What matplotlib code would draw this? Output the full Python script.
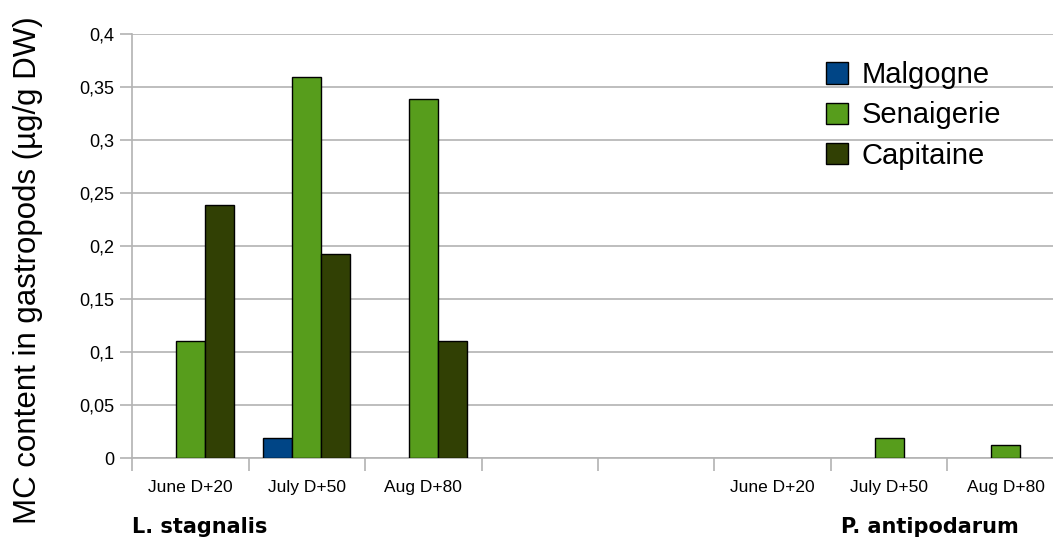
import numpy as np
import matplotlib.pyplot as plt
from matplotlib.patches import Patch

plt.rcParams['font.family'] = ['Liberation Sans', 'DejaVu Sans']

# 8 category slots: L. stagnalis (3), two empty spacers, P. antipodarum (3)
labels = ['June D+20', 'July D+50', 'Aug D+80', '', '',
          'June D+20', 'July D+50', 'Aug D+80']
malgogne = [0, 0.019, 0, 0, 0, 0, 0, 0]
senaigerie = [0.11, 0.359, 0.339, 0, 0, 0, 0.019, 0.012]
capitaine = [0.239, 0.192, 0.11, 0, 0, 0, 0, 0]

series = ['Malgogne', 'Senaigerie', 'Capitaine']
colors = ['#004586', '#579d1c', '#314004']

fig = plt.figure(figsize=(10.53, 5.41), dpi=100)
ax = fig.add_axes([0.1254, 0.1534, 0.885, 0.7837])

x = np.arange(len(labels))
w = 0.25
for i, (vals, c) in enumerate(zip([malgogne, senaigerie, capitaine], colors)):
    v = np.array(vals, dtype=float)
    mask = v > 0
    ax.bar(x[mask] + (i - 1) * w, v[mask], width=w, color=c,
           edgecolor='black', linewidth=1, zorder=3)

ax.set_xlim(-0.5, len(labels) - 0.5)
ax.set_ylim(0, 0.4)
yt = np.arange(0, 0.401, 0.05)
ax.set_yticks(yt)
ax.set_yticklabels(['0' if t == 0 else ('%g' % round(t, 2)).replace('.', ',') for t in yt],
                   fontsize=13)
ax.yaxis.grid(True, color='#b3b3b3', linewidth=1.2, zorder=0)
ax.tick_params(axis='y', length=9, color='#b3b3b3', width=1.2, pad=4)

ax.set_xticks(x)
ax.set_xticklabels(labels, fontsize=12.5)
ax.set_xticks(np.arange(-0.5, len(labels), 1), minor=True)
ax.tick_params(axis='x', which='major', length=0, pad=16)
ax.tick_params(axis='x', which='minor', length=9, color='#b3b3b3', width=1.2)

for s in ['top', 'right']:
    ax.spines[s].set_visible(False)
for s in ['left', 'bottom']:
    ax.spines[s].set_color('#b3b3b3')
    ax.spines[s].set_linewidth(1.2)
ax.set_axisbelow(True)

ax.text(-0.5, -0.065, 'L. stagnalis', fontsize=15, fontweight='bold',
        family='DejaVu Sans', ha='left', va='center', clip_on=False)
ax.text(6.35, -0.065, 'P. antipodarum', fontsize=15, fontweight='bold',
        family='DejaVu Sans', ha='center', va='center', clip_on=False)

fig.text(0.027, 0.5, 'MC content in gastropods (µg/g DW)', rotation=90,
         fontsize=22.5, ha='center', va='center')

handles = [Patch(facecolor=c, edgecolor='black', label=s) for s, c in zip(series, colors)]
fig.legend(handles=handles, loc='upper left', bbox_to_anchor=(0.771, 0.914),
           frameon=False, fontsize=21, handlelength=0.75, handleheight=0.75,
           handletextpad=0.45, labelspacing=0.42, borderpad=0)

fig.savefig('out.png', dpi=100)
